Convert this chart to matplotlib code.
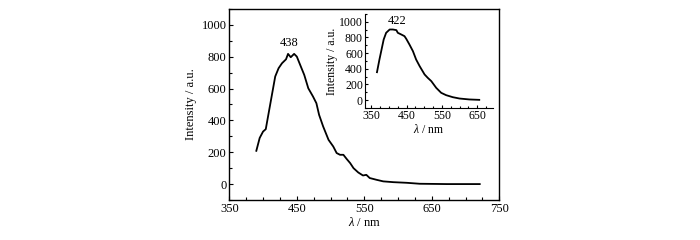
import matplotlib
matplotlib.use('Agg')
import matplotlib.pyplot as plt
from matplotlib.ticker import MultipleLocator

plt.rcParams['font.family'] = ['Liberation Serif', 'DejaVu Serif']
plt.rcParams['mathtext.fontset'] = 'custom'
plt.rcParams['mathtext.it'] = 'Liberation Serif:italic'
plt.rcParams['mathtext.rm'] = 'Liberation Serif'

# main spectrum
wl_main = [390, 395, 400, 404, 410, 418, 423, 428, 434, 437, 441, 446, 450, 456, 461,
           467, 474, 479, 483, 489, 497, 504, 509, 514, 519, 524, 529, 534, 541, 548,
           553, 558, 568, 578, 593, 613, 632, 672, 721]
int_main = [209, 290, 330, 345, 487, 676, 728, 759, 784, 818, 797, 818, 801, 738, 686,
            602, 550, 508, 435, 362, 278, 236, 195, 184, 184, 157, 132, 100, 73, 54,
            58, 38, 27, 17, 12, 8, 2, 0, 0]
main_xticks = [350, 450, 550, 650, 750]

# inset spectrum
wl_ins = [366, 373, 378, 385, 392, 402, 411, 421, 425, 435, 444, 449, 458, 468, 477,
          487, 501, 510, 520, 534, 548, 562, 581, 600, 628, 656]
int_ins = [357, 519, 625, 774, 860, 902, 902, 894, 860, 838, 817, 783, 711, 625, 519,
           434, 328, 285, 243, 157, 94, 64, 38, 21, 9, 4]
ins_xticks = [350, 450, 550, 650]

fig = plt.figure(figsize=(7, 2.4), dpi=100)

ax = fig.add_axes([0.3276, 0.1667, 0.3857, 0.7958])
ax.plot(wl_main, int_main, color='black', lw=1.3)
ax.set_xlim(350, 750)
ax.set_ylim(-100, 1100)
ax.set_xticks(main_xticks)
ax.xaxis.set_minor_locator(MultipleLocator(25))
ax.yaxis.set_major_locator(MultipleLocator(200))
ax.yaxis.set_minor_locator(MultipleLocator(100))
ax.tick_params(direction='in', labelsize=9, length=3, width=0.8, pad=2)
ax.tick_params(which='minor', direction='in', length=2, width=0.8)
ax.set_xlabel(r'$\mathit{\lambda}$ / nm', fontsize=9, labelpad=1)
ax.set_ylabel('Intensity / a.u.', fontsize=9, labelpad=3)
ax.text(438, 850, '438', ha='center', va='bottom', fontsize=9)
for s in ax.spines.values():
    s.set_linewidth(1.0)

ins = fig.add_axes([0.5214, 0.55, 0.1829, 0.3917])
ins.plot(wl_ins, int_ins, color='black', lw=1.3)
ins.set_xlim(332, 695)
ins.set_ylim(-100, 1100)
ins.spines['top'].set_visible(False)
ins.spines['right'].set_visible(False)
ins.set_xticks(ins_xticks)
ins.xaxis.set_minor_locator(MultipleLocator(25))
ins.yaxis.set_major_locator(MultipleLocator(200))
ins.yaxis.set_minor_locator(MultipleLocator(100))
ins.tick_params(direction='in', labelsize=8.5, length=2.5, width=0.8, pad=1.5)
ins.tick_params(which='minor', direction='in', length=1.5, width=0.8)
ins.set_xlabel(r'$\mathit{\lambda}$ / nm', fontsize=8.5, labelpad=1)
ins.set_ylabel('Intensity / a.u.', fontsize=8.5, labelpad=1)
ins.text(422, 930, '422', ha='center', va='bottom', fontsize=9)

fig.savefig('out.png', dpi=100)
